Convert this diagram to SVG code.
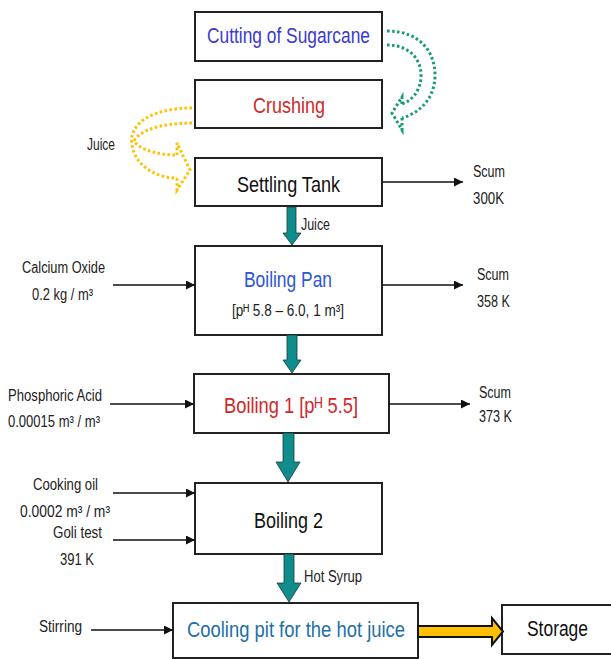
<svg xmlns="http://www.w3.org/2000/svg" width="611" height="659" viewBox="0 0 611 659">
<defs>
<marker id="ah" viewBox="0 0 10 10" refX="10" refY="5" markerWidth="9" markerHeight="9" markerUnits="userSpaceOnUse" orient="auto"><path d="M0,0 L10,5 L0,10 z" fill="#111"/></marker>
<style>
.box{fill:#fff;stroke:#222;stroke-width:2}
.big{font-family:"Liberation Sans",Arial,sans-serif;font-size:22px}
.sm{font-family:"Liberation Sans","DejaVu Sans",Arial,sans-serif;font-size:16px;fill:#222}
.line{stroke:#111;stroke-width:1.6;fill:none;marker-end:url(#ah)}
.teal{fill:#0F8C8C;stroke:#1a3a3a;stroke-width:0.8}
.dotg{fill:none;stroke:#159C72;stroke-width:3;stroke-dasharray:2.5 2.5}
.doty{fill:none;stroke:#FFC000;stroke-width:3;stroke-dasharray:2.5 2.5}
</style>
</defs>
<rect width="611" height="659" fill="#fff"/>

<g id="cutting">
<rect class="box" x="195" y="12" width="187" height="49"/>
<text class="big" x="207" y="43" textLength="163" lengthAdjust="spacingAndGlyphs" fill="#3A3AD2">Cutting of Sugarcane</text>
</g>
<g id="crushing">
<rect class="box" x="195" y="80" width="187" height="48"/>
<text class="big" x="253" y="113" textLength="72" lengthAdjust="spacingAndGlyphs" fill="#D02828">Crushing</text>
</g>
<g id="settling">
<rect class="box" x="195" y="158" width="187" height="48"/>
<text class="big" x="237" y="192" textLength="103" lengthAdjust="spacingAndGlyphs" fill="#111">Settling Tank</text>
</g>
<g id="boilingpan">
<rect class="box" x="195" y="246" width="187" height="89"/>
<text class="big" x="244" y="287" textLength="88" lengthAdjust="spacingAndGlyphs" fill="#2E55DA">Boiling Pan</text>
<text class="sm" x="232" y="316" textLength="112" lengthAdjust="spacingAndGlyphs" fill="#333">[pᴴ 5.8 – 6.0, 1 m³]</text>
</g>
<g id="boiling1">
<rect class="box" x="194" y="374" width="195" height="59"/>
<text class="big" x="224" y="413" textLength="134" lengthAdjust="spacingAndGlyphs" fill="#D02828">Boiling 1 [pᴴ 5.5]</text>
</g>
<g id="boiling2">
<rect class="box" x="195" y="483" width="187" height="71"/>
<text class="big" x="254" y="528" textLength="69" lengthAdjust="spacingAndGlyphs" fill="#111">Boiling 2</text>
</g>
<g id="cooling">
<rect class="box" x="173" y="603" width="245" height="55"/>
<text class="big" x="187" y="637" textLength="218" lengthAdjust="spacingAndGlyphs" fill="#1E6FA6">Cooling pit for the hot juice</text>
</g>
<g id="storage">
<rect class="box" x="502" y="605" width="112" height="49"/>
<text class="big" x="527" y="636" textLength="61" lengthAdjust="spacingAndGlyphs" fill="#111">Storage</text>
</g>

<g id="connectors">
<path class="dotg" d="M387,31 C420,31 435,52 435,75 C435,98 420,113 402,118"/>
<path class="dotg" d="M387,45 C408,45 421,58 421,75 C421,90 413,100 402,104"/>
<path class="dotg" d="M402,104 L402,97 L392,113 L402,130 L402,118"/>
<path class="doty" d="M192,108 C155,108 128,122 132,145 C135,165 155,178 177,178"/>
<path class="doty" d="M192,123 C162,123 140,130 134,141 C140,150 158,155 177,155"/>
<path class="doty" d="M177,155 L177,143 L190,170 L177,190 L177,178"/>

<polygon class="teal" points="287,207 296,207 296,233 301,233 292,245 283,233 287,233"/>
<polygon class="teal" points="287,335 297,335 297,360 301,360 292,373 283,360 287,360"/>
<polygon class="teal" points="283,433 294,433 294,462 300,462 288,482 276,462 283,462"/>
<polygon class="teal" points="284,554 294,554 294,583 301,583 289,602 277,583 284,583"/>
<polygon points="418,626 492,626 492,618 503,631.5 492,645 492,637 418,637" fill="#FFC000" stroke="#111" stroke-width="2"/>

<line class="line" x1="382" y1="182" x2="463" y2="182"/>
<line class="line" x1="382" y1="285" x2="463" y2="285"/>
<line class="line" x1="389" y1="404" x2="470" y2="404"/>
<line class="line" x1="113" y1="285" x2="195" y2="285"/>
<line class="line" x1="110" y1="404" x2="194" y2="404"/>
<line class="line" x1="113" y1="493" x2="195" y2="493"/>
<line class="line" x1="113" y1="540" x2="195" y2="540"/>
<line class="line" x1="91" y1="630" x2="173" y2="630"/>
</g>

<g id="labels">
<text class="sm" x="87" y="150" textLength="28" lengthAdjust="spacingAndGlyphs">Juice</text>
<text class="sm" x="301" y="230" textLength="29" lengthAdjust="spacingAndGlyphs">Juice</text>
<text class="sm" x="473" y="177" textLength="32" lengthAdjust="spacingAndGlyphs">Scum</text>
<text class="sm" x="473" y="204" textLength="31" lengthAdjust="spacingAndGlyphs">300K</text>
<text class="sm" x="477" y="280" textLength="32" lengthAdjust="spacingAndGlyphs">Scum</text>
<text class="sm" x="477" y="307" textLength="33" lengthAdjust="spacingAndGlyphs">358 K</text>
<text class="sm" x="479" y="398" textLength="32" lengthAdjust="spacingAndGlyphs">Scum</text>
<text class="sm" x="479" y="422" textLength="33" lengthAdjust="spacingAndGlyphs">373 K</text>
<text class="sm" x="304" y="582" textLength="58" lengthAdjust="spacingAndGlyphs">Hot Syrup</text>
<text class="sm" x="22" y="273" textLength="83" lengthAdjust="spacingAndGlyphs">Calcium Oxide</text>
<text class="sm" x="32" y="300" textLength="61" lengthAdjust="spacingAndGlyphs">0.2 kg / m³</text>
<text class="sm" x="8" y="401" textLength="94" lengthAdjust="spacingAndGlyphs">Phosphoric Acid</text>
<text class="sm" x="8" y="427" textLength="92" lengthAdjust="spacingAndGlyphs">0.00015 m³ / m³</text>
<text class="sm" x="33" y="490" textLength="65" lengthAdjust="spacingAndGlyphs">Cooking oil</text>
<text class="sm" x="20" y="517" textLength="90" lengthAdjust="spacingAndGlyphs">0.0002 m³ / m³</text>
<text class="sm" x="53" y="538" textLength="49" lengthAdjust="spacingAndGlyphs">Goli test</text>
<text class="sm" x="60" y="565" textLength="34" lengthAdjust="spacingAndGlyphs">391 K</text>
<text class="sm" x="39" y="632" textLength="43" lengthAdjust="spacingAndGlyphs">Stirring</text>
</g>
</svg>
